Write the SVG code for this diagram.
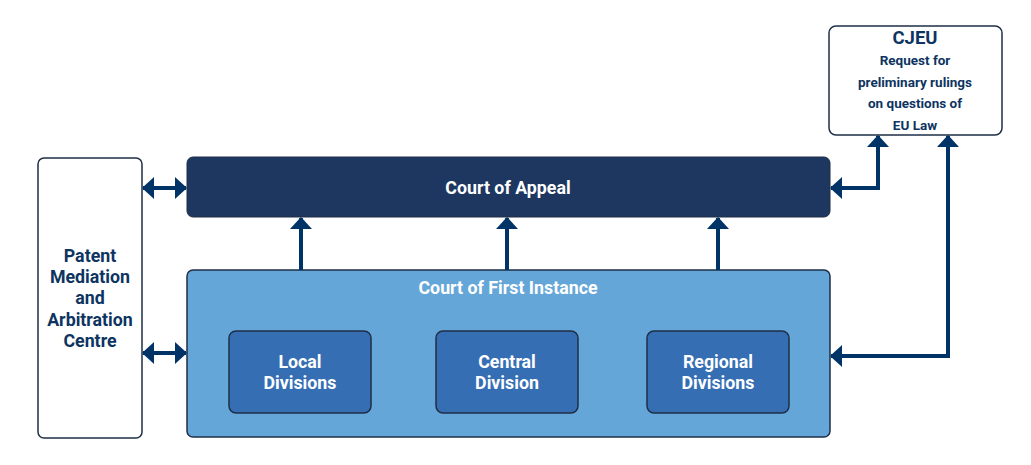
<svg xmlns="http://www.w3.org/2000/svg" width="1031" height="465" viewBox="0 0 1031 465">
<style>
text{font-family:Roboto,"Liberation Sans",sans-serif;font-weight:bold;text-anchor:middle;dominant-baseline:central}
.w{fill:#ffffff;font-size:17.8px}
.n{fill:#0e3461;font-size:17.8px}
.s{fill:#0e3461;font-size:13.5px}
.c{fill:none;stroke:#003466;stroke-width:4}
</style>
<defs>
<marker id="ah" markerWidth="12" markerHeight="22" refX="11" refY="11" orient="auto-start-reverse" markerUnits="userSpaceOnUse" viewBox="0 0 12 22">
<path d="M0,0 L12,11 L0,22 Z" fill="#003466"/>
</marker>
</defs>
<rect width="1031" height="465" fill="#ffffff"/>
<g id="pmac">
<rect x="38" y="158" width="104" height="280" rx="6" fill="#ffffff" stroke="#1e2f47" stroke-width="1.5"/>
<text class="n" x="90" y="255">Patent</text>
<text class="n" x="90" y="276">Mediation</text>
<text class="n" x="90" y="297">and</text>
<text class="n" x="90" y="319">Arbitration</text>
<text class="n" x="90" y="340">Centre</text>
</g>
<g id="coa">
<rect x="187" y="157" width="643" height="60" rx="6" fill="#1e3761" stroke="#1e2f47" stroke-width="1"/>
<text class="w" x="508" y="187">Court of Appeal</text>
</g>
<g id="cfi">
<rect x="187" y="270" width="643" height="167" rx="6" fill="#65a6d9" stroke="#1e2f47" stroke-width="1.5"/>
<text class="w" x="508" y="287">Court of First Instance</text>
</g>
<g id="local">
<rect x="229" y="331" width="142" height="82" rx="7" fill="#356eb3" stroke="#1e2f47" stroke-width="1.5"/>
<text class="w" x="300" y="361">Local</text>
<text class="w" x="300" y="382">Divisions</text>
</g>
<g id="central">
<rect x="436" y="331" width="142" height="82" rx="7" fill="#356eb3" stroke="#1e2f47" stroke-width="1.5"/>
<text class="w" x="507" y="361">Central</text>
<text class="w" x="507" y="382">Division</text>
</g>
<g id="regional">
<rect x="647" y="331" width="142" height="82" rx="7" fill="#356eb3" stroke="#1e2f47" stroke-width="1.5"/>
<text class="w" x="718" y="361">Regional</text>
<text class="w" x="718" y="382">Divisions</text>
</g>
<g id="cjeu">
<rect x="829" y="26" width="173" height="109" rx="7" fill="#ffffff" stroke="#1e2f47" stroke-width="1.5"/>
<text class="n" x="915" y="38" style="font-size:18.5px">CJEU</text>
<text class="s" x="915" y="60">Request for</text>
<text class="s" x="915" y="82">preliminary rulings</text>
<text class="s" x="915" y="103">on questions of</text>
<text class="s" x="915" y="125">EU Law</text>
</g>
<g id="connectors">
<path class="c" d="M143,188 L186,188" marker-start="url(#ah)" marker-end="url(#ah)"/>
<path class="c" d="M143,353 L186,353" marker-start="url(#ah)" marker-end="url(#ah)"/>
<path class="c" d="M301,270 L301,218" marker-end="url(#ah)"/>
<path class="c" d="M507,270 L507,218" marker-end="url(#ah)"/>
<path class="c" d="M718,270 L718,218" marker-end="url(#ah)"/>
<path class="c" d="M831,188 L878,188 L878,136" marker-start="url(#ah)" marker-end="url(#ah)"/>
<path class="c" d="M831,356 L948,356 L948,136" marker-start="url(#ah)" marker-end="url(#ah)"/>
</g>
</svg>
